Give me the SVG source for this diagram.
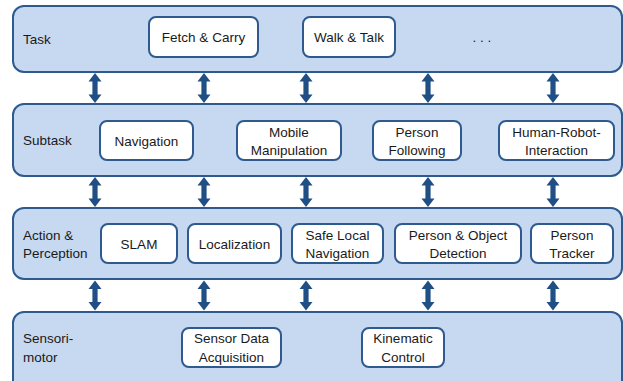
<svg xmlns="http://www.w3.org/2000/svg" width="623" height="381" viewBox="0 0 623 381">
<style>
.band{fill:#c6d9f1;stroke:#2e5a8e;stroke-width:2}
.box{fill:#ffffff;stroke:#2e5a8e;stroke-width:2}
text{font-family:"Liberation Sans",Arial,sans-serif;font-size:13.5px;fill:#1a1a1a}
.c{text-anchor:middle}
.arr{fill:#204f86}
</style>
<defs>
<path id="dbl" d="M0,0 L6.5,8.5 L2.6,8.5 L2.6,21.5 L6.5,21.5 L0,30 L-6.5,21.5 L-2.6,21.5 L-2.6,8.5 L-6.5,8.5 Z"/>
</defs>
<g id="layer-task">
<rect class="band" x="13" y="6" width="609" height="66" rx="11"/>
<text x="23" y="44">Task</text>
</g>
<g id="layer-subtask">
<rect class="band" x="13" y="104" width="609" height="72" rx="11"/>
<text x="23" y="145">Subtask</text>
</g>
<g id="layer-action">
<rect class="band" x="13" y="208" width="609" height="71" rx="11"/>
<text x="23" y="240">Action &amp;</text>
<text x="23" y="258">Perception</text>
</g>
<g id="layer-sensorimotor">
<rect class="band" x="13" y="312" width="609" height="90" rx="11"/>
<text x="23" y="343">Sensori-</text>
<text x="23" y="362">motor</text>
</g>
<g id="node-fetch"><rect class="box" x="149" y="17" width="109" height="40" rx="7"/><text class="c" x="203.5" y="42">Fetch &amp; Carry</text></g>
<g id="node-walk"><rect class="box" x="303" y="17" width="92" height="40" rx="7"/><text class="c" x="349" y="42">Walk &amp; Talk</text></g>
<g id="node-more"><text class="c" x="482" y="42">. . .</text></g>
<g id="node-navigation"><rect class="box" x="100" y="121" width="93" height="39" rx="7"/><text class="c" x="146.5" y="145.5">Navigation</text></g>
<g id="node-mobile"><rect class="box" x="237" y="121" width="104" height="39" rx="7"/><text class="c" x="289" y="136.5">Mobile</text><text class="c" x="289" y="155">Manipulation</text></g>
<g id="node-following"><rect class="box" x="373" y="121" width="88" height="39" rx="7"/><text class="c" x="417" y="136.5">Person</text><text class="c" x="417" y="155">Following</text></g>
<g id="node-hri"><rect class="box" x="499" y="121" width="115" height="39" rx="7"/><text class="c" x="556.5" y="136.5">Human-Robot-</text><text class="c" x="556.5" y="155">Interaction</text></g>
<g id="node-slam"><rect class="box" x="101" y="224" width="76" height="39" rx="7"/><text class="c" x="139" y="248.5">SLAM</text></g>
<g id="node-localization"><rect class="box" x="188" y="224" width="93" height="39" rx="7"/><text class="c" x="234.5" y="248.5">Localization</text></g>
<g id="node-safe"><rect class="box" x="292" y="224" width="91" height="39" rx="7"/><text class="c" x="337.5" y="239.5">Safe Local</text><text class="c" x="337.5" y="258">Navigation</text></g>
<g id="node-detection"><rect class="box" x="395" y="224" width="126" height="39" rx="7"/><text class="c" x="458" y="239.5">Person &amp; Object</text><text class="c" x="458" y="258">Detection</text></g>
<g id="node-tracker"><rect class="box" x="531" y="224" width="82" height="39" rx="7"/><text class="c" x="572" y="239.5">Person</text><text class="c" x="572" y="258">Tracker</text></g>
<g id="node-sensor"><rect class="box" x="182" y="328" width="99" height="39" rx="7"/><text class="c" x="231.5" y="343">Sensor Data</text><text class="c" x="231.5" y="361.5">Acquisition</text></g>
<g id="node-kinematic"><rect class="box" x="362" y="328" width="82" height="39" rx="7"/><text class="c" x="403" y="343">Kinematic</text><text class="c" x="403" y="361.5">Control</text></g>
<g id="connectors" class="arr">
<use href="#dbl" x="95" y="73"/><use href="#dbl" x="204" y="73"/><use href="#dbl" x="306" y="73"/><use href="#dbl" x="428" y="73"/><use href="#dbl" x="553" y="73"/>
<use href="#dbl" x="95" y="177"/><use href="#dbl" x="204" y="177"/><use href="#dbl" x="306" y="177"/><use href="#dbl" x="428" y="177"/><use href="#dbl" x="553" y="177"/>
<use href="#dbl" x="95" y="280.5"/><use href="#dbl" x="204" y="280.5"/><use href="#dbl" x="306" y="280.5"/><use href="#dbl" x="428" y="280.5"/><use href="#dbl" x="553" y="280.5"/>
</g>
</svg>
